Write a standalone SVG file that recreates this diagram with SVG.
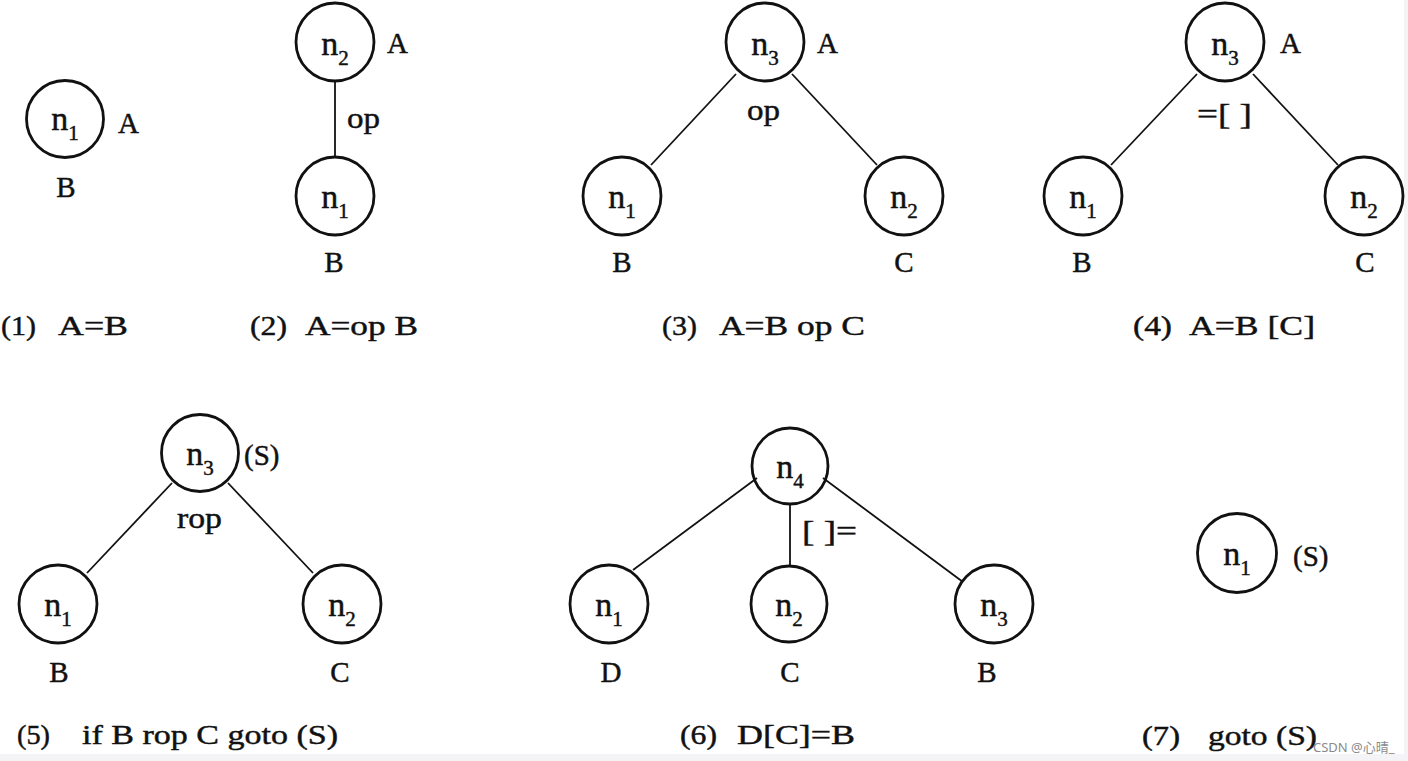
<svg xmlns="http://www.w3.org/2000/svg" width="1408" height="761" viewBox="0 0 1408 761">
<style>
.bg{fill:#ffffff}
.band{fill:#f4f4f6}
.node circle{fill:none;stroke:#111;stroke-width:2.8}
.edge{stroke:#111;stroke-width:1.8;fill:none}
text{font-family:"Liberation Serif","Times New Roman",serif;fill:#111;stroke:#111;stroke-width:0.45}
.nl{font-size:34px;text-anchor:middle}
.sub{font-size:21px}
.lb{font-size:29px}
.mid{text-anchor:middle}
.cap{font-size:28px}
.wm{font-family:"Noto Sans","Noto Sans CJK SC",sans-serif;font-size:13px;fill:#8a8a8a;stroke:none}
</style>
<rect class="bg" x="0" y="0" width="1408" height="761"/>
<rect class="band" x="0" y="754" width="1408" height="7"/>
<rect class="band" x="1404" y="0" width="4" height="761"/>

<g id="connectors">
  <line class="edge" x1="335" y1="81" x2="335" y2="157"/>
  <line class="edge" x1="736" y1="74" x2="651" y2="165"/>
  <line class="edge" x1="792" y1="74" x2="877" y2="165"/>
  <line class="edge" x1="1197" y1="74" x2="1111" y2="165"/>
  <line class="edge" x1="1253" y1="74" x2="1338" y2="165"/>
  <line class="edge" x1="172" y1="483" x2="87" y2="573"/>
  <line class="edge" x1="228" y1="483" x2="313" y2="573"/>
  <line class="edge" x1="757" y1="478" x2="633" y2="570"/>
  <line class="edge" x1="790" y1="504" x2="790" y2="565"/>
  <line class="edge" x1="823" y1="478" x2="963" y2="582"/>
</g>

<!-- Panel 1 -->
<g id="p1-n1" class="node">
  <circle cx="65" cy="119" r="38.5"/>
  <text class="nl" x="65" y="130">n<tspan class="sub" dy="10">1</tspan></text>
  <text class="lb" x="118" y="133">A</text>
  <text class="lb mid" x="66" y="197">B</text>
</g>
<g id="cap1">
  <text class="cap" x="1" y="335" textLength="35" lengthAdjust="spacingAndGlyphs">(1)</text>
  <text class="cap" x="58" y="335" textLength="70" lengthAdjust="spacingAndGlyphs">A=B</text>
</g>

<!-- Panel 2 -->
<g id="p2-n2" class="node">
  <circle cx="335" cy="42" r="39"/>
  <text class="nl" x="335" y="55">n<tspan class="sub" dy="10">2</tspan></text>
  <text class="lb" x="387" y="53">A</text>
</g>
<g id="p2-op"><text class="lb" x="347" y="128" textLength="33" lengthAdjust="spacingAndGlyphs">op</text></g>
<g id="p2-n1" class="node">
  <circle cx="335" cy="196" r="39"/>
  <text class="nl" x="335" y="208">n<tspan class="sub" dy="10">1</tspan></text>
  <text class="lb mid" x="334" y="272">B</text>
</g>
<g id="cap2">
  <text class="cap" x="250" y="335" textLength="37" lengthAdjust="spacingAndGlyphs">(2)</text>
  <text class="cap" x="305" y="335" textLength="113" lengthAdjust="spacingAndGlyphs">A=op B</text>
</g>

<!-- Panel 3 -->
<g id="p3-n3" class="node">
  <circle cx="765" cy="42" r="39"/>
  <text class="nl" x="765" y="55">n<tspan class="sub" dy="10">3</tspan></text>
  <text class="lb" x="817" y="53">A</text>
</g>
<g id="p3-op"><text class="lb" x="747" y="120" textLength="33" lengthAdjust="spacingAndGlyphs">op</text></g>
<g id="p3-n1" class="node">
  <circle cx="622" cy="196" r="39"/>
  <text class="nl" x="622" y="208">n<tspan class="sub" dy="10">1</tspan></text>
  <text class="lb mid" x="622" y="272">B</text>
</g>
<g id="p3-n2" class="node">
  <circle cx="904" cy="196" r="39"/>
  <text class="nl" x="904" y="208">n<tspan class="sub" dy="10">2</tspan></text>
  <text class="lb mid" x="904" y="272">C</text>
</g>
<g id="cap3">
  <text class="cap" x="662" y="335" textLength="35" lengthAdjust="spacingAndGlyphs">(3)</text>
  <text class="cap" x="719" y="335" textLength="146" lengthAdjust="spacingAndGlyphs">A=B op C</text>
</g>

<!-- Panel 4 -->
<g id="p4-n3" class="node">
  <circle cx="1225" cy="42" r="39"/>
  <text class="nl" x="1225" y="55">n<tspan class="sub" dy="10">3</tspan></text>
  <text class="lb" x="1280" y="53">A</text>
</g>
<g id="p4-op"><text class="lb" x="1197" y="124" textLength="55" lengthAdjust="spacingAndGlyphs">=[ ]</text></g>
<g id="p4-n1" class="node">
  <circle cx="1083" cy="196" r="39"/>
  <text class="nl" x="1083" y="208">n<tspan class="sub" dy="10">1</tspan></text>
  <text class="lb mid" x="1082" y="272">B</text>
</g>
<g id="p4-n2" class="node">
  <circle cx="1364" cy="196" r="39"/>
  <text class="nl" x="1364" y="208">n<tspan class="sub" dy="10">2</tspan></text>
  <text class="lb mid" x="1365" y="272">C</text>
</g>
<g id="cap4">
  <text class="cap" x="1133" y="335" textLength="39" lengthAdjust="spacingAndGlyphs">(4)</text>
  <text class="cap" x="1189" y="335" textLength="126" lengthAdjust="spacingAndGlyphs">A=B [C]</text>
</g>

<!-- Panel 5 -->
<g id="p5-n3" class="node">
  <circle cx="200" cy="453" r="38.5"/>
  <text class="nl" x="200" y="465">n<tspan class="sub" dy="10">3</tspan></text>
  <text class="lb" x="244" y="465">(S)</text>
</g>
<g id="p5-rop"><text class="lb" x="177" y="528" textLength="45" lengthAdjust="spacingAndGlyphs">rop</text></g>
<g id="p5-n1" class="node">
  <circle cx="58" cy="604" r="39"/>
  <text class="nl" x="58" y="616">n<tspan class="sub" dy="10">1</tspan></text>
  <text class="lb mid" x="59" y="682">B</text>
</g>
<g id="p5-n2" class="node">
  <circle cx="342" cy="604" r="39"/>
  <text class="nl" x="342" y="616">n<tspan class="sub" dy="10">2</tspan></text>
  <text class="lb mid" x="340" y="682">C</text>
</g>
<g id="cap5">
  <text class="cap" x="17" y="744" textLength="33" lengthAdjust="spacingAndGlyphs">(5)</text>
  <text class="cap" x="82" y="744" textLength="256" lengthAdjust="spacingAndGlyphs">if B rop C goto (S)</text>
</g>

<!-- Panel 6 -->
<g id="p6-n4" class="node">
  <circle cx="790" cy="466" r="38"/>
  <text class="nl" x="790" y="478">n<tspan class="sub" dy="10">4</tspan></text>
</g>
<g id="p6-op"><text class="lb" x="802" y="541" textLength="55" lengthAdjust="spacingAndGlyphs">[ ]=</text></g>
<g id="p6-n1" class="node">
  <circle cx="609" cy="604" r="39"/>
  <text class="nl" x="609" y="616">n<tspan class="sub" dy="10">1</tspan></text>
  <text class="lb mid" x="611" y="682">D</text>
</g>
<g id="p6-n2" class="node">
  <circle cx="789" cy="604" r="38"/>
  <text class="nl" x="789" y="616">n<tspan class="sub" dy="10">2</tspan></text>
  <text class="lb mid" x="790" y="682">C</text>
</g>
<g id="p6-n3" class="node">
  <circle cx="994" cy="604" r="39"/>
  <text class="nl" x="994" y="616">n<tspan class="sub" dy="10">3</tspan></text>
  <text class="lb mid" x="987" y="682">B</text>
</g>
<g id="cap6">
  <text class="cap" x="680" y="744" textLength="37" lengthAdjust="spacingAndGlyphs">(6)</text>
  <text class="cap" x="737" y="744" textLength="118" lengthAdjust="spacingAndGlyphs">D[C]=B</text>
</g>

<!-- Panel 7 -->
<g id="p7-n1" class="node">
  <circle cx="1237" cy="553" r="39.5"/>
  <text class="nl" x="1237" y="565">n<tspan class="sub" dy="10">1</tspan></text>
  <text class="lb" x="1293" y="566">(S)</text>
</g>
<g id="cap7">
  <text class="cap" x="1142" y="745" textLength="38" lengthAdjust="spacingAndGlyphs">(7)</text>
  <text class="cap" x="1208" y="745" textLength="109" lengthAdjust="spacingAndGlyphs">goto (S)</text>
</g>

<text class="wm" x="1313" y="752">CSDN @心晴_</text>
</svg>
